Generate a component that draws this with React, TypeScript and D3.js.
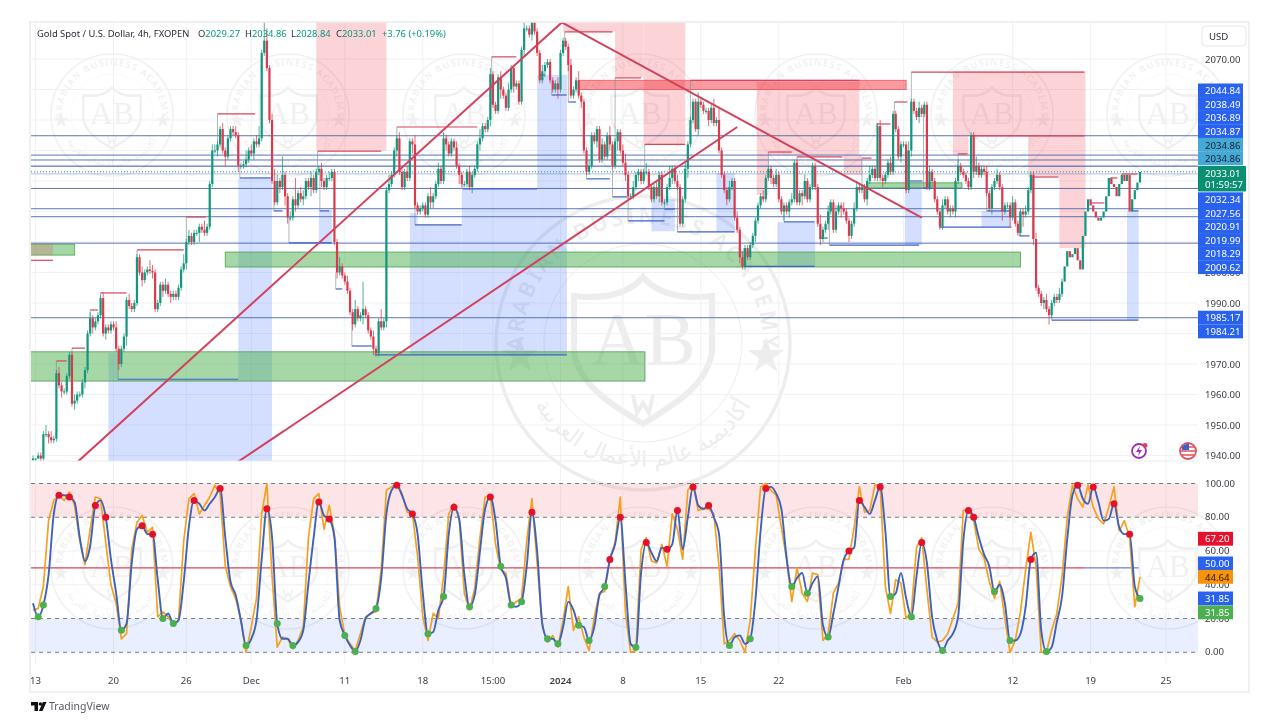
import { scaleLinear, line as d3line, symbol, symbolStar, curveMonotoneX } from "d3";

const closes = [
  1939,1939,1940,1939,1947,1947,1946,1945,1945.5,1967,
  1963,1961,1961,1966,1973,1957,1958,1960,1960,1964,
  1968,1980,1985,1982,1984,1986,1991.6,1980,1982,1981,
  1983,1982,1975,1970,1975,1979,1991,1989,1988,1990,
  2005,2000,1997.5,2000,2001,2000.5,2000,1988,1990,1996,
  1994,1996,1993,1992,1993,1992,1995,2001,2003,2010,
  2012,2010,2013,2013,2015,2014,2013,2015,2029,2040,
  2040,2042,2047,2040,2038,2044,2047,2046,2045,2035,
  2035,2035.5,2037,2040,2039,2043,2042,2044,2072,2076,
  2067,2050,2030,2023,2030,2028,2032,2025,2018,2018,
  2024,2022,2026,2024,2025,2030,2028,2031,2027,2033,
  2034,2030,2028,2031,2031,2033,2010,2000,2002,1999,
  1997,1994,1987,1983,1988,1985,1986,1988,1986,1981,
  1979,1975,1973.5,1984,1982,1984,2027,2029,2032,2040,
  2044,2033,2028,2033,2031,2043,2042,2022,2020,2021,
  2022,2019,2025,2023,2025,2029,2034,2030,2044,2042,
  2039,2043,2041,2035,2032,2029,2029,2033,2028,2032,
  2034,2042,2044,2048,2047,2050,2065,2055,2053,2064,
  2060,2058,2054,2060,2067,2061,2062,2056,2073,2080,
  2080,2078,2083,2079,2072,2063,2066,2068,2069,2063,
  2060,2062,2060,2072,2076,2074,2068,2058,2060,2063,
  2058,2056,2040,2033,2035,2045,2043,2047,2037,2042,
  2038,2045,2042,2035,2043,2046,2040,2036,2032,2025,
  2025,2028,2032,2033,2030,2033,2033,2028,2024,2028,
  2025,2032,2023,2023,2028,2031,2034,2030,2028,2016,
  2024,2034,2042,2050,2056,2047,2056,2055,2053,2053,
  2050,2054,2049,2050,2040,2032,2027,2024,2028,2030,
  2018,2014,2005,2002,2008,2005,2009,2012,2017,2022,
  2025,2024,2031,2034,2031,2029,2032,2024,2020,2022,
  2020,2023,2024,2036,2023,2026,2025,2030,2024,2028,
  2035,2028,2016,2011,2014,2016,2020,2023,2014,2020,
  2022,2021,2020,2017,2012,2016,2021,2028,2027,2028,
  2024,2030,2032,2034,2031,2048,2031,2030,2032,2036,
  2033,2052,2047,2038,2042,2042,2027,2040,2056,2053,
  2051,2054,2052,2055,2028,2033,2030,2024,2020,2015,
  2022,2024,2020,2021,2020,2030,2035,2033,2032,2030,
  2028,2045,2033,2035,2032,2034,2033,2026,2021,2028,
  2030,2032,2028,2020,2022,2022,2018,2023,2016,2013,
  2020,2019,2020,2027,2032,2011,1995,1993,1990,1991,
  1988,1986,1990,1992,1991,1993,1997,2002,2007,2005,
  2006,2008,2004,2001,2012,2020,2024,2022,2020,2018,
  2017,2018,2020,2025,2031,2029,2028,2025,2029,2032,
  2030,2032,2020,2024,2027,2029.5,2033.01,
];

// wick lengths per bar, in USD
const upWicks = [
  1,0,1,1,1,3,1,2,1,1, 2,1,1,1,1,1,2,1,1,1, 1,1,2,1,1,1,1,2,1,1, 1,1,2,1,1,1,1,2,1,1,
  1,1,2,1,1,3,2,1,1,1, 1,2,1,1,1,1,1,1,3,1, 2,1,1,1,1,1,3,1,1,2, 2,1,1,2,1,1,1,1,2,1,
  1,1,3,1,2,1,2,4,1,10, 4,1,2,4,2,1,6,1,1,2, 1,7,1,2,2,1,1,2,1,1, 1,2,1,1,2,1,1,1,3,1,
  1,2,1,1,3,1,1,9,1,1, 1,2,1,1,4,1,1,3,1,1, 1,2,1,1,2,1,1,3,1,1, 1,1,1,3,1,1,2,1,2,1,
  1,1,1,2,1,1,1,1,2,1, 1,1,3,1,1,1,2,1,1,1, 2,1,1,2,1,1,1,1,1,3, 1,1,2,1,1,1,2,1,1,1,
  1,1,2,1,1,1,1,2,1,1, 3,1,1,1,2,1,1,1,1,2, 1,1,3,1,1,1,1,2,3,1, 1,2,1,1,1,1,3,1,1,1,
  2,1,1,1,1,4,1,1,2,1, 1,2,1,1,1,1,3,1,1,1, 1,1,3,1,4,1,1,1,2,1, 1,2,1,2,1,1,1,1,1,1,
  1,2,1,1,1,1,2,1,1,1, 1,1,2,1,1,1,1,2,1,1, 1,1,1,3,1,1,2,1,1,2, 1,1,2,1,1,1,2,2,1,1,
  1,1,3,1,1,1,2,1,1,1, 2,1,1,1,1,1,1,3,1,1, 1,2,1,1,1,2,1,1,1,1, 2,1,1,1,1,1,2,1,1,1,
  1,1,1,3,1,1,1,2,1,1, 1,2,1,1,1,1,1,2,1,1, 1,1,2,1,1,1,2,1,1,1, 2,1,1,1,1,2,1,
];

const downWicks = [
  1,1,0,1,1,1,2,1,1,1, 1,2,1,1,1,1,2,1,1,1, 2,1,1,2,1,1,1,1,2,1, 1,1,1,2,1,1,3,1,1,1,
  1,1,2,1,1,1,2,1,1,1, 2,1,1,2,1,1,1,1,1,2, 1,1,1,1,3,1,1,1,1,1, 1,2,1,1,3,1,1,1,1,2,
  1,1,1,1,1,2,1,1,1,1, 1,1,1,1,1,2,1,3,2,1, 1,2,1,1,2,1,1,3,1,1, 1,2,1,1,1,1,1,2,1,1,
  1,1,1,2,1,1,1,3,1,1, 1,2,1,1,1,1,2,1,1,1, 2,1,1,1,1,1,3,1,1,1, 1,1,1,2,2,1,1,1,1,2,
  1,1,1,1,3,1,1,1,1,2, 1,1,2,1,1,1,2,1,1,1, 3,1,1,1,1,2,1,1,1,2, 1,1,2,1,1,1,1,2,1,1,
  1,1,3,1,1,1,2,1,1,1, 1,2,1,1,1,1,1,2,1,1, 1,1,2,1,1,3,1,1,2,1, 1,1,1,2,1,1,1,1,1,1,
  1,2,1,1,1,1,2,1,1,1, 1,1,3,1,1,1,2,1,1,1, 2,1,1,1,1,1,1,2,1,1, 1,1,2,1,1,1,1,1,2,1,
  1,1,1,1,2,1,1,1,1,3, 1,2,1,1,1,1,3,1,1,1, 1,1,1,2,1,1,2,1,1,1, 1,3,1,1,2,1,1,1,1,1,
  1,2,1,1,1,1,1,2,1,1, 1,1,1,1,2,1,1,1,2,1, 1,2,1,1,1,1,2,1,1,1, 1,1,1,2,1,2,1,1,1,1,
  1,1,2,1,1,1,1,1,1,2, 1,1,1,3,1,1,3,1,1,1, 1,4,1,1,1,2,1,1,1,2, 1,3,1,1,1,1,1,
];

// stochastic, one reading every second bar
const stochK = [
  25,26,39,78,90,93,90,95,87,66, 52,73,92,91,65,40,29,8,11,61,
  77,81,71,74,21,24,21,16,19,66, 91,94,82,87,92,99,94,51,39,32,
  19,0,15,32,82,100,45,3,9,8, 2,7,15,68,91,94,73,87,70,27,
  10,5,1,11,21,23,24,49,96,98, 100,94,83,82,57,21,7,23,20,45,
  82,88,79,35,25,38,68,92,93,64, 49,47,27,30,32,66,91,53,15,6,
  10,3,19,39,13,21,9,1,21,35, 36,55,65,92,23,0,1,61,68,54,
  53,64,51,82,73,55,96,100,84,85, 85,82,51,5,7,11,7,0,19,61,
  98,100,96,93,74,55,30,50,35,30, 47,46,7,11,35,41,55,55,74,98,
  83,84,99,99,39,23,43,41,20,24, 62,68,37,9,6,7,11,20,29,84,
  85,78,61,56,42,32,42,20,0,7, 24,49,71,51,0,0,13,23,45,80,
  99,91,86,99,86,79,76,86,98,72, 78,68,27,44.64,
];

const stochD = [
  29,21,28,46,82,93,93,92,89,68, 54,63,87,90,80,55,35,13,17,53,
  73,75,70,70,43,20,23,17,19,42, 74.5,90,88,84,88,92,97,68,42,34,
  19,4,8,19,55,85,68,17,8,8, 4,6,13,41,68,89,81,79,68,19,
  10,4,0.5,7,20,23,26,44,82,96, 99,93,85,82,70,35,11,12,25,33,
  70,86,79,46,27,34,60,85,92,78, 51,44,28,27,30,51,83,60,17,8,
  8,5,15,30,25,16,15,7,15,34, 39,55,64,80,41,5,3,47,65,59,
  54,62,61,64,84,61,80,98,87,85, 87,80,70,21,4,9,10,5,8,31,
  72,97,98,94,85,56,39,44,47,35, 41,45,16,9,23,39,55,60,62,90,
  86,82,90,98,72,33,35,47,32,21, 45,65,53,21,7,1,7,11,21,66,
  84,80,68,58,51,36,40,29,7,7, 11,27,55,59,13,0.5,3,18,33,67,
  93,99,91,88,98,89,78,79,88,74, 70,70,39,31.85,
];

// indexes into the stochastic readings where a signal fired
const sellSignals = [5,7,12,14,21,23,31,36,45,55,57,70,73,81,88,96,111,113,118,122,124,127,130,141,157,159,163,171,180,181,192,201,204,208,211];
const buySignals = [1,2,17,25,27,41,47,50,60,62,66,76,79,84,90,92,94,99,101,105,107,110,116,134,138,146,149,153,165,169,175,185,188,195,213];

const priceTicks = [2070,2060,2050,2040,2030,2020,2010,2000,1990,1980,1970,1960,1950,1940];
const stochTicks = [100,80,60,40,20,0];
const timeLabels = ["13","20","26","Dec","11","18","15:00","2024","8","15","22","Feb","12","19","25"];
const timeBars = [1,31,59,84,120,150,177,203,227,257,287,335,377,407,436];

// price levels with a line across the pane
const levelLines = [2044.84,2038.49,2036.89,2034.87,2027.56,2020.91,2018.29,2009.62,1985.17];
const paleLevels = [2034.86,2032.34];

// [slot in the stacked label column, value, fill, text]
const stackedTags: [number,string,string,string][] = [
  [0,"2044.84","#2962ee","#fff"],[1,"2038.49","#2962ee","#fff"],[2,"2036.89","#2962ee","#fff"],
  [3,"2034.87","#2962ee","#fff"],[4,"2034.86","#45a9d6","#1c2030"],[5,"2034.86","#45a9d6","#1c2030"],
  [8,"2032.34","#2962ee","#fff"],[9,"2027.56","#2962ee","#fff"],[10,"2020.91","#2962ee","#fff"],
  [11,"2019.99","#2962ee","#fff"],[12,"2018.29","#2962ee","#fff"],[13,"2009.62","#2962ee","#fff"],
];
const lowTags = ["1985.17","1984.21"];
const stochTags: [number,string,string,string][] = [
  [67.2,"67.20","#e8112d","#fff"],[52.6,"50.00","#2962ee","#fff"],[44.64,"44.64","#f7930a","#2a1a00"],
  [31.85,"31.85","#2962ee","#fff"],[23.6,"31.85","#4caf50","#fff"],
];

// legend figures of the header, with the spot each one starts at
const headerValues: [string,string,number][] = [
  ["O","2029.27",198],["H","2034.86",245],["L","2028.84",291],["C","2033.01",336],
];

// zones: [first bar, last bar, top price, bottom price]
const supplyZones = [
  [109,136,2082,2040],[204,224,2082,2079],[224,235,2082,2064],[235,251,2082,2042],
  [278.5,318,2062.5,2038.5],[278.5,283,2038.5,2025.4],[312,319,2038.5,2032],
  [354,405,2066,2044.8],[354,360,2044.8,2038.5],[383,405,2044.8,2031.3],[395,405,2031.3,2008],
];
const demandZones = [
  [29,92,1964.8,1938],[79,92,2031,1964.8],[29,33,1973.5,1964.8],[110,115,2020.5,2009.7],
  [145,148,2019.5,2015.6],[145,165,2015.6,1973],[165,194,2027.4,1973],[194,205.5,2064.8,1973],
  [238,247,2024,2013.5],[263,270,2032.6,2013.3],[286.5,301,2016.5,2002],[335.5,342,2029.7,2009],
  [365,376.5,2020.2,2014.9],[421,425.5,2020.2,1984.4],
];
const greenBoxes = [[-1,16,2009.3,2005.7],[74,380,2006.7,2001.8],[-1,235.5,1974,1964.4],[321,357.5,2029.4,2027.7]];
const redBoxes = [[210,336,2063,2060]];
const tanBoxes = [[-1,7.7,2009.3,2005.7]];

// swing levels: [first bar, last bar, price]
const swingHighs = [
  [-1,7.7,2004],[9,13,1971],[15,20,1975.2],[22,25,1987.7],[26,36,1993.3],[40,58,2007.4],[59,66.5,2018.2],
  [71,85.5,2052],[109.5,134,2039.8],[140,171,2047.7],[176.5,186,2070.7],[204.6,223,2078.9],
  [224,234,2063.8],[235.4,251,2042],[253,318,2063],[283,292,2039.5],[294,311.5,2037.9],
  [319,322.7,2037.5],[324.6,330,2048.7],[331.5,336.5,2055.9],[338,404.6,2065.7],[356,359.6,2038.9],
  [361,404.6,2044.8],[384.6,394.6,2031.3],[407.3,412.3,2022.8],[414.6,417.3,2031],[419,425,2032.3],
];
const swingLows = [
  [32.7,79,1965],[79.6,91.5,2031],[92.7,96,2020.2],[98.5,115,2009.7],[110.4,114,2020.2],[116.5,119,1994.6],
  [122.7,130.4,1975.9],[131.5,205.4,1973],[147,165,2015.6],[165.4,194,2027.4],[195,197,2064.8],
  [199.6,205.4,2058.2],[206,209,2055.9],[213,222,2030.7],[223,228.5,2024.8],[229,243,2016.9],
  [243,247,2020.8],[248,270,2013.3],[273.5,300.8,2002],[289,300.8,2016.6],[302.7,305.8,2011.3],
  [306.5,341,2009],[336.5,342.3,2030],[342.7,345.8,2027.7],[348.8,376.5,2014.9],[367,376.5,2020.2],
  [379.6,383.5,2012],[392,425.4,1984.4],[422.7,425.4,2020.2],
];

// trend lines: [bar, price, bar, price]
const trendLines = [[17.3,1938,203.5,2082],[203.5,2082,342,2018],[79,1938,271,2047.7]];

const logoColumns = [112,288,464,640,816,992,1168];

const FONT = "'Noto Sans', sans-serif";
const LEFT = 31, RIGHT = 1198, PRICE_TOP = 22, PRICE_BOTTOM = 461, PANE_BOTTOM = 664;

const x = scaleLinear().domain([0, 426]).range([33, 1140]);
const y = scaleLinear().domain([2070, 1940]).range([59, 455.5]);
const yStoch = scaleLinear().domain([100, 0]).range([483.5, 652.3]);

const kLine = d3line<number>()
  .x((_, i) => x(i * 2))
  .y((d) => yStoch(d));

const dLine = d3line<number>()
  .x((_, i) => x(i * 2))
  .y((d) => yStoch(d))
  .curve(curveMonotoneX);

const starPath = symbol().type(symbolStar).size(420)() ?? undefined;

function zoneRect(z: number[], key: number) {
  const left = x(z[0]);
  return <rect key={key} x={left} y={y(z[2])} width={x(z[1]) - left} height={y(z[3]) - y(z[2])} />;
}

function Tag({ top, w, label, fill, color }: { top: number; w: number; label: string; fill: string; color: string }) {
  return (
    <g>
      <rect x={RIGHT} y={top} width={w} height={13.8} fill={fill} />
      <text x={1205} y={top + 10.6} fontSize={9.6} fill={color}>{label}</text>
    </g>
  );
}

function Logo() {
  const ink = "#ededed";
  return (
    <g id="abLogo" fill="none" stroke={ink}>
      <circle r={147} strokeWidth={3.5} />
      <circle r={99} strokeWidth={1} />
      <path strokeWidth={6} d="M0,-66 C-15,-48 -40,-44 -69,-47 L-69,10 C-62,45 -30,62 0,81 C30,62 62,45 69,10 L69,-47 C40,-44 15,-48 0,-66 Z" />
      <path id="abTop" d="M-116,31 A120,120 0 1 1 116,31" stroke="none" />
      <path id="abBottom" d="M-122,26 A125,125 0 0 0 122,26" stroke="none" />
      <text fontFamily={FONT} fontSize={22} fontWeight={600} fill={ink} stroke="none" letterSpacing={3}>
        <textPath href="#abTop" startOffset="50%" textAnchor="middle">ARABIAN BUSINESS ACADEMY</textPath>
      </text>
      <text fontFamily="'DejaVu Sans', sans-serif" fontSize={22} fill={ink} stroke="none">
        <textPath href="#abBottom" startOffset="50%" textAnchor="middle">أكاديمية عالم الأعمال العربية</textPath>
      </text>
      <text y={22} textAnchor="middle" fontFamily="'Liberation Serif', serif" fontSize={76} fill={ink} stroke="none">AB</text>
      <path d={starPath} transform="translate(123,13)" fill={ink} stroke="none" />
      <path d={starPath} transform="translate(-123,13)" fill={ink} stroke="none" />
      <path d="M-10,52 L-6,70 L0,60 L6,70 L10,52" strokeWidth={4} />
    </g>
  );
}

export default function App() {
  const bars = closes.map((close, i) => {
    const open = i === 0 ? 1938.5 : closes[i - 1];
    return {
      i,
      open,
      close,
      high: Math.max(open, close) + upWicks[i],
      low: Math.min(open, close) - downWicks[i],
    };
  });

  return (
    <svg width={1280} height={720} style={{ position: "fixed", left: 0, top: 0, background: "#fff" }} fontFamily={FONT}>
      <defs>
        <clipPath id="pricePane"><rect x={LEFT} y={PRICE_TOP} width={RIGHT - LEFT} height={PRICE_BOTTOM - PRICE_TOP} /></clipPath>
        <clipPath id="stochPane"><rect x={LEFT} y={PRICE_BOTTOM} width={RIGHT - LEFT} height={PANE_BOTTOM - PRICE_BOTTOM} /></clipPath>
        <Logo />
      </defs>

      {/* watermark tiles */}
      {logoColumns.map((cx) => (
        <g key={cx} opacity={0.8}>
          <use href="#abLogo" transform={`translate(${cx},115) scale(0.415)`} />
          <use href="#abLogo" transform={`translate(${cx},568) scale(0.415)`} />
        </g>
      ))}
      <use href="#abLogo" transform="translate(643,343)" />

      {/* grid */}
      <g stroke="#eff1f6">
        {timeBars.map((b) => <line key={b} x1={x(b)} x2={x(b)} y1={PRICE_TOP} y2={PANE_BOTTOM} />)}
        {priceTicks.map((p) => <line key={p} x1={LEFT} x2={RIGHT} y1={y(p)} y2={y(p)} />)}
        {[60, 40].map((v) => <line key={v} x1={LEFT} x2={RIGHT} y1={yStoch(v)} y2={yStoch(v)} />)}
      </g>

      <g clipPath="url(#pricePane)">
        <g fill="#f23645" opacity={0.22}>{supplyZones.map(zoneRect)}</g>
        <g fill="#2962ff" opacity={0.2}>{demandZones.map(zoneRect)}</g>
        <g fill="#4caf50" fillOpacity={0.5} stroke="#4c9f50" strokeOpacity={0.8}>{greenBoxes.map(zoneRect)}</g>
        <g fill="#f23645" fillOpacity={0.5} stroke="#ef5350" strokeOpacity={0.8}>{redBoxes.map(zoneRect)}</g>
        <g fill="#f23645" fillOpacity={0.2}>{tanBoxes.map(zoneRect)}</g>

        {levelLines.map((p) => <line key={p} x1={LEFT} x2={RIGHT} y1={y(p)} y2={y(p)} stroke="#3f5fa8" strokeOpacity={0.85} />)}
        {paleLevels.map((p) => <line key={p} x1={LEFT} x2={RIGHT} y1={y(p)} y2={y(p)} stroke="#3f5fa8" strokeOpacity={0.4} />)}
        <line x1={LEFT} x2={RIGHT} y1={y(2033.01)} y2={y(2033.01)} stroke="#089981" strokeDasharray="1 2" />

        {swingHighs.map((s, k) => (
          <g key={k} stroke="#d8455a">
            <line x1={x(s[0])} x2={x(s[1])} y1={y(s[2])} y2={y(s[2])} strokeWidth={1.2} />
            {s[0] > 0 && <line x1={x(s[0])} x2={x(s[0])} y1={y(s[2])} y2={y(closes[Math.round(s[0])])} stroke="#7d8a8a" strokeOpacity={0.6} />}
          </g>
        ))}
        {swingLows.map((s, k) => (
          <g key={k} stroke="#3f62c8">
            <line x1={x(s[0])} x2={x(s[1])} y1={y(s[2])} y2={y(s[2])} strokeWidth={1.2} />
            <line x1={x(s[0])} x2={x(s[0])} y1={y(s[2])} y2={y(closes[Math.round(s[0])])} stroke="#7d8a8a" strokeOpacity={0.6} />
          </g>
        ))}

        {bars.map((b) => {
          const color = b.close >= b.open ? "#12977c" : "#da3a4c";
          const top = y(Math.max(b.open, b.close));
          return (
            <g key={b.i}>
              <line x1={x(b.i)} x2={x(b.i)} y1={y(b.high)} y2={y(b.low)} stroke={color} strokeOpacity={0.75} />
              <rect x={x(b.i) - 1.1} y={top} width={2.2} height={Math.max(1, y(Math.min(b.open, b.close)) - top)} fill={color} />
            </g>
          );
        })}

        {trendLines.map((t, k) => (
          <line key={k} x1={x(t[0])} y1={y(t[1])} x2={x(t[2])} y2={y(t[3])} stroke="#d2425c" strokeWidth={2} />
        ))}
      </g>

      {/* stochastic pane */}
      <rect x={LEFT} y={yStoch(100)} width={RIGHT - LEFT} height={yStoch(80) - yStoch(100)} fill="#f23645" opacity={0.13} />
      <rect x={LEFT} y={yStoch(20)} width={RIGHT - LEFT} height={yStoch(0) - yStoch(20)} fill="#2962ff" opacity={0.1} />
      {[100, 80, 20, 0].map((v) => (
        <line key={v} x1={LEFT} x2={RIGHT} y1={yStoch(v)} y2={yStoch(v)} stroke="#787b86" strokeDasharray="4 4" />
      ))}
      <line x1={LEFT} x2={x(405)} y1={yStoch(50)} y2={yStoch(50)} stroke="#d8455a" strokeWidth={1.2} />
      <line x1={x(405)} x2={x(425.5)} y1={yStoch(50)} y2={yStoch(50)} stroke="#3f62c8" />
      <g clipPath="url(#stochPane)" fill="none" strokeLinejoin="round">
        <path d={kLine(stochK) ?? undefined} stroke="#f5a11e" strokeWidth={1.7} />
        <path d={dLine(stochD) ?? undefined} stroke="#3c62bd" strokeWidth={1.9} />
      </g>
      {sellSignals.map((i) => <circle key={i} cx={x(i * 2)} cy={yStoch(stochD[i])} r={3.5} fill="#e3112a" />)}
      {buySignals.map((i) => <circle key={i} cx={x(i * 2)} cy={yStoch(stochD[i])} r={3.5} fill="#4caf50" />)}

      {/* frame */}
      <line x1={LEFT} x2={RIGHT} y1={PRICE_BOTTOM} y2={PRICE_BOTTOM} stroke="#e9ebf0" />
      <rect x={30} y={22} width={1219} height={670} fill="none" stroke="#ececec" strokeWidth={1.5} />

      {/* price axis */}
      <g fontSize={9.6} fill="#3a3d46">
        {priceTicks.map((p) => <text key={p} x={1205} y={y(p) + 3.5}>{p.toFixed(2)}</text>)}
        {stochTicks.map((v) => <text key={v} x={1205} y={yStoch(v) + 3}>{v.toFixed(2)}</text>)}
      </g>
      {stackedTags.map(([slot, label, fill, color], k) => (
        <Tag key={k} top={83.5 + slot * 13.6} w={45} label={label} fill={fill} color={color} />
      ))}
      {lowTags.map((label, k) => <Tag key={label} top={y(1985.17) - 7 + k * 13.8} w={45} label={label} fill="#2962ee" color="#fff" />)}
      <rect x={RIGHT} y={166} width={48} height={25.5} rx={1} fill="#0b8f72" />
      <text x={1205} y={177} fontSize={9.6} fill="#fff">2033.01</text>
      <text x={1205} y={188} fontSize={9.6} fill="#fff">01:59:57</text>
      {stochTags.map(([v, label, fill, color], k) => (
        <Tag key={k} top={yStoch(v) - 7} w={35} label={label} fill={fill} color={color} />
      ))}

      {/* time axis */}
      <g fontSize={9.6} fill="#3a3d46" textAnchor="middle">
        {timeLabels.map((t, k) => (
          <text key={t + k} x={x(timeBars[k])} y={684} fontWeight={t === "2024" ? 600 : 400}>{t}</text>
        ))}
      </g>

      {/* header */}
      <g fontSize={9.4} fill="#2a2e39">
        <text x={37} y={37}>Gold Spot / U.S. Dollar, 4h, FXOPEN</text>
        {headerValues.map(([name, value, left]) => (
          <text key={name} x={left} y={37}>{name}<tspan fill="#089981">{value}</tspan></text>
        ))}
        <text x={382} y={37} fill="#089981">+3.76 (+0.19%)</text>
      </g>
      <rect x={1202} y={26} width={44} height={20} rx={3} fill="#fff" stroke="#e6e8ee" />
      <text x={1209} y={40} fontSize={9.6} fill="#2a2e39">USD</text>

      {/* pane icons */}
      <circle cx={1139} cy={451} r={7} fill="#fff" stroke="#9c2fb5" strokeWidth={1.8} />
      <path d="M1140,446 L1136,452 L1139,452 L1138,456 L1142,450 L1139,450 Z" fill="#9c2fb5" />
      <circle cx={1145} cy={445.5} r={2.4} fill="#e0404f" />
      <circle cx={1188} cy={451} r={8} fill="#fff" stroke="#e0505f" strokeWidth={1.8} />
      <path d="M1181.5,447 h13 M1181,451 h14 M1182,455 h12" stroke="#e0505f" strokeWidth={1.6} />
      <path d="M1182,450 V447 Q1185,443.5 1189,443.5 V450 Z" fill="#3f62c8" />

      {/* branding */}
      <path d="M31,702 h7 v9 h-3.5 v-5.5 H31 Z M46.5,702 l-4,9 h-3.6 l4,-9 Z" fill="#111" />
      <circle cx={40.4} cy={704} r={1.8} fill="#111" />
      <text x={49} y={710} fontSize={10.5} fill="#555a66">TradingView</text>
    </svg>
  );
}
